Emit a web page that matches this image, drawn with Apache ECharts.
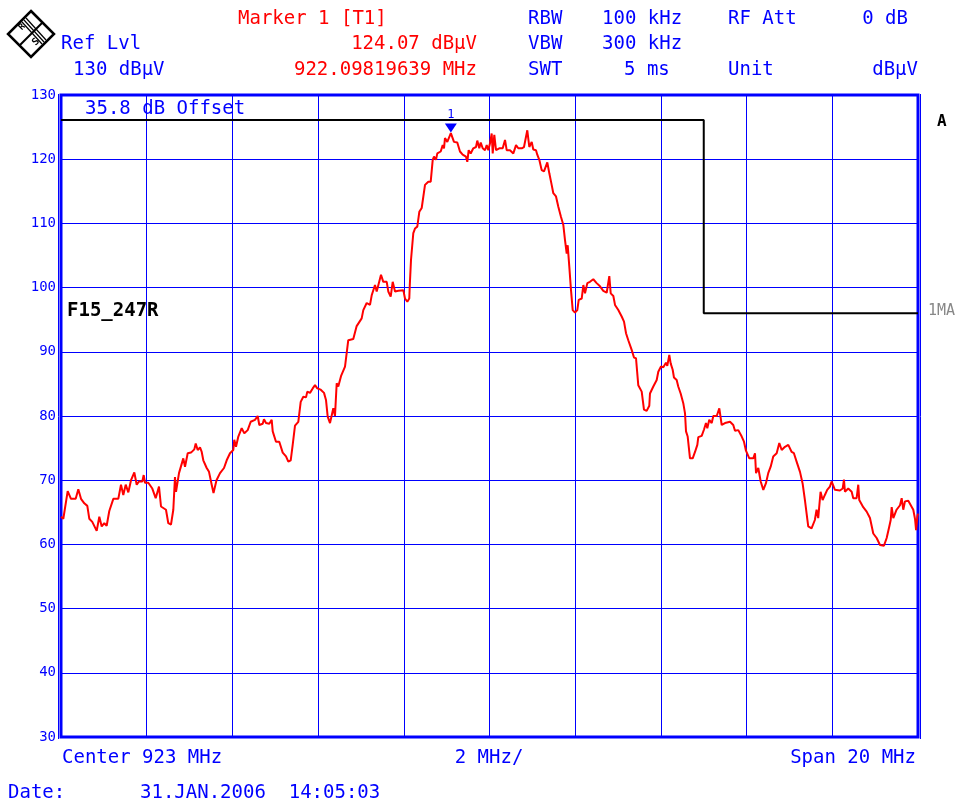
<!DOCTYPE html>
<html>
<head>
<meta charset="utf-8">
<script src="https://cdn.jsdelivr.net/npm/echarts@6/dist/echarts.min.js"></script>
<style>
html,body{margin:0;padding:0;background:#fff;}
#chart{width:962px;height:804px;}
</style>
</head>
<body>
<div id="chart"></div>
<script>
// ---- Data ----
const centerMHz = 923;
const spanMHz = 20;
const startMHz = centerMHz - spanMHz / 2;
const yTicks = [30, 40, 50, 60, 70, 80, 90, 100, 110, 120, 130];

const freqMHz = [
913.000,913.054,913.156,913.233,913.343,913.404,913.467,913.544,913.614,913.660,
913.730,913.833,913.894,913.950,914.010,914.066,914.127,914.221,914.337,914.400,
914.454,914.510,914.571,914.634,914.711,914.767,914.820,914.897,914.930,914.960,
915.037,915.131,915.210,915.287,915.334,915.364,915.450,915.504,915.567,915.621,
915.660,915.684,915.754,915.854,915.894,915.957,916.034,916.111,916.144,916.190,
916.244,916.284,916.321,916.400,916.454,916.517,916.559,916.629,916.711,916.804,
916.867,916.944,917.021,917.044,917.084,917.138,917.217,917.278,917.357,917.427,
917.527,917.590,917.628,917.707,917.737,917.784,917.861,917.917,917.941,918.017,
918.094,918.174,918.251,918.305,918.361,918.407,918.461,918.538,918.594,918.655,
918.718,918.748,918.811,918.874,918.928,918.981,919.061,919.138,919.184,919.224,
919.278,919.324,919.355,919.394,919.434,919.471,919.539,919.628,919.704,919.821,
919.900,920.017,920.055,920.134,920.211,920.251,920.328,920.368,920.468,920.521,
920.601,920.638,920.694,920.741,920.795,920.872,920.989,921.028,921.082,921.128,
921.140,921.168,921.222,921.261,921.315,921.362,921.418,921.495,921.572,921.628,
921.675,921.705,921.751,921.782,921.861,921.908,921.938,921.961,922.015,922.098,
922.171,922.248,922.311,922.374,922.451,922.482,922.514,922.561,922.622,922.685,
922.715,922.762,922.795,922.841,922.895,922.935,922.972,923.012,923.051,923.075,
923.112,923.152,923.229,923.308,923.362,923.401,923.478,923.556,923.619,923.672,
923.751,923.805,923.882,923.929,923.985,924.022,924.085,924.115,924.162,924.218,
924.272,924.349,924.396,924.451,924.489,924.552,924.606,924.669,924.722,924.762,
924.802,924.825,924.862,924.902,924.942,924.995,925.049,925.082,925.152,925.190,
925.229,925.283,925.345,925.422,925.501,925.579,925.656,925.735,925.796,925.829,
925.890,925.929,926.006,926.085,926.139,926.186,926.239,926.318,926.372,926.419,
926.472,926.552,926.605,926.668,926.729,926.745,926.823,926.902,926.939,927.002,
927.056,927.118,927.149,927.196,927.228,927.275,927.305,927.368,927.405,927.461,
927.522,927.563,927.586,927.625,927.679,927.742,927.796,927.850,927.873,927.952,
928.006,928.052,928.083,928.129,928.186,928.223,928.303,928.363,928.419,928.496,
928.613,928.689,928.729,928.806,928.886,928.939,928.985,929.063,929.156,929.196,
929.220,929.273,929.329,929.390,929.450,929.505,929.562,929.622,929.702,929.763,
929.819,929.896,929.973,930.052,930.104,930.167,930.246,930.307,930.361,930.400,
930.438,930.516,930.593,930.633,930.671,930.726,930.774,930.827,930.881,930.944,
930.984,931.061,931.178,931.242,931.272,931.295,931.372,931.452,931.489,931.568,
931.606,931.629,931.722,931.802,931.879,931.956,932.035,932.113,932.206,932.269,
932.330,932.363,932.386,932.424,932.500,932.580,932.619,932.656,932.696,932.773,
932.819,932.890,932.932,932.955,932.985,933.000
];

const levelDbuV = [
64.3,64.0,68.3,67.1,67.1,68.6,67.1,66.4,66.0,64.0,
63.5,62.1,64.3,62.8,63.3,62.9,65.2,67.1,67.1,69.3,
67.7,69.3,68.1,70.0,71.2,69.3,69.8,69.8,70.8,69.6,
69.6,68.7,67.2,69.0,65.9,65.6,65.4,63.3,63.1,65.4,
70.5,68.2,71.1,73.4,72.1,74.2,74.3,74.8,75.7,74.7,
75.1,74.4,73.1,71.9,71.3,69.3,68.0,70.0,71.1,71.9,
73.1,74.2,74.7,76.3,75.2,76.8,78.1,77.3,77.8,79.1,
79.4,80.0,78.6,78.8,79.5,78.9,78.8,79.4,77.6,76.0,
76.0,74.3,73.7,72.9,73.1,75.5,78.5,79.1,82.2,83.0,
82.9,83.8,83.6,84.3,84.8,84.3,84.1,83.6,82.5,79.9,
78.9,78.9,81.2,80.0,85.1,84.6,86.3,87.7,91.8,92.0,
94.0,95.2,96.5,97.6,97.3,98.8,100.4,99.4,102.0,100.9,
100.9,99.4,98.6,100.9,99.4,99.5,99.6,98.3,97.8,98.3,
100.4,104.3,108.5,109.2,109.5,111.8,112.4,116.0,116.5,116.5,
119.9,120.4,119.9,120.9,121.2,122.2,121.7,123.3,122.7,124.07,
122.7,122.6,121.2,120.7,120.4,119.6,121.4,120.9,121.7,121.9,
122.9,121.7,122.6,121.7,121.4,122.2,121.4,122.5,124.0,120.9,
123.8,121.4,121.7,121.7,123.0,121.4,121.4,120.9,122.2,121.7,
121.7,121.9,124.5,121.9,122.7,121.5,121.4,120.7,119.9,118.3,
118.1,119.5,117.8,116.0,114.7,114.2,112.6,111.0,109.8,107.4,
105.3,106.6,103.3,99.6,96.5,96.1,96.5,98.1,98.3,100.4,
99.1,100.7,100.9,101.3,100.7,100.2,99.5,99.2,101.8,99.1,
98.7,97.3,96.5,95.5,94.7,92.9,91.8,90.3,89.1,89.0,
84.8,83.8,81.0,80.8,81.6,83.5,84.6,85.6,86.9,87.7,
87.6,88.3,87.8,89.5,88.2,87.2,86.0,85.6,84.6,83.5,
82.0,80.4,77.6,76.8,73.4,73.4,74.4,75.5,76.7,76.9,
77.9,78.9,78.1,79.4,78.9,80.0,80.0,81.2,78.6,78.9,
79.1,78.6,77.7,77.8,76.8,76.0,74.6,73.4,73.4,74.2,
71.1,71.9,69.8,68.5,69.5,71.1,72.1,73.7,74.2,75.8,
74.7,75.2,75.5,74.4,74.2,72.9,71.3,69.5,66.9,66.7,
62.8,62.5,63.8,65.4,64.1,68.2,66.9,67.7,68.5,69.0,
69.8,68.5,68.4,68.7,70.1,68.2,68.7,68.2,67.2,67.2,
69.3,66.9,65.8,65.1,64.1,61.7,61.0,59.9,59.8,61.0,
62.8,63.8,65.8,64.1,65.4,66.1,67.2,65.4,66.7,66.8,
66.7,65.4,63.9,62.2,64.3,64.8
];

// Limit line (black)
const limitFreqMHz = [913, 928, 928, 933];
const limitDbuV = [126.1, 126.1, 96.0, 96.0];

// Marker 1
const markerFreqMHz = 922.09819639;
const markerLevel = 124.07;

// ---- Build (x = MHz from start frequency) ----
const traceData = freqMHz.map((f, i) => [f - startMHz, levelDbuV[i]]);
const limitData = limitFreqMHz.map((f, i) => [f - startMHz, limitDbuV[i]]);

const BLUE = '#0000ff';
const RED = '#ff0000';
const MONO = '"DejaVu Sans Mono", "Liberation Mono", monospace';
const F = (sz, w) => (w || 'normal') + ' ' + sz + 'px ' + MONO;

function txt(x, y, s, color, size, align, weight) {
  return {
    type: 'text', x: x, y: y, silent: true,
    style: { text: s, fill: color, font: F(size, weight), align: align || 'left', verticalAlign: 'middle' }
  };
}

const chart = echarts.init(document.getElementById('chart'), null, { renderer: 'canvas' });

const option = {
  animation: false,
  backgroundColor: '#ffffff',
  grid: {
    left: 61, right: 44, top: 95, bottom: 67,
    show: true, borderColor: BLUE, borderWidth: 3, backgroundColor: 'transparent'
  },
  xAxis: {
    type: 'value',
    min: 0, max: spanMHz, interval: 2,
    axisLine: { show: false, onZero: false },
    axisTick: { show: false },
    axisLabel: { show: false },
    splitLine: { show: true, lineStyle: { color: BLUE, width: 1 } }
  },
  yAxis: {
    type: 'value',
    min: yTicks[0], max: yTicks[yTicks.length - 1], interval: 10,
    axisLine: { show: false, onZero: false },
    axisTick: { show: false },
    axisLabel: { show: true, color: BLUE, fontFamily: MONO, fontSize: 14, margin: 5 },
    splitLine: { show: true, lineStyle: { color: BLUE, width: 1 } }
  },
  series: [
    {
      type: 'line',
      data: limitData,
      showSymbol: false,
      lineStyle: { color: '#000000', width: 2 },
      silent: true,
      z: 3
    },
    {
      type: 'line',
      data: traceData,
      showSymbol: false,
      lineStyle: { color: RED, width: 2 },
      silent: true,
      z: 4,
      markPoint: {
        silent: true,
        data: [{
          coord: [markerFreqMHz - startMHz, markerLevel],
          symbol: 'triangle',
          symbolRotate: 180,
          symbolSize: [12, 9],
          symbolOffset: [0, -5],
          itemStyle: { color: BLUE },
          label: { show: true, formatter: '1', position: 'top', distance: 3, color: BLUE, fontFamily: MONO, fontSize: 12 }
        }]
      }
    }
  ],
  graphic: [
    // left / right double frame lines
    { type: 'line', silent: true, shape: { x1: 58.5, y1: 94, x2: 58.5, y2: 739 }, style: { stroke: BLUE, lineWidth: 1 } },
    { type: 'line', silent: true, shape: { x1: 920.5, y1: 94, x2: 920.5, y2: 739 }, style: { stroke: BLUE, lineWidth: 1 } },
    // R&S logo
    {
      type: 'group', silent: true,
      children: [
        { type: 'polygon', shape: { points: [[31, 11], [54, 34], [31, 57], [8, 34]] }, style: { fill: 'none', stroke: '#000', lineWidth: 2.5 } },
        { type: 'line', shape: { x1: 22, y1: 22, x2: 42, y2: 44 }, style: { stroke: '#000', lineWidth: 1.2 } },
        { type: 'line', shape: { x1: 24, y1: 20, x2: 44, y2: 42 }, style: { stroke: '#000', lineWidth: 1.2 } },
        { type: 'line', shape: { x1: 26, y1: 18, x2: 46, y2: 40 }, style: { stroke: '#000', lineWidth: 1.2 } },
        { type: 'line', shape: { x1: 19, y1: 46, x2: 43, y2: 22 }, style: { stroke: '#000', lineWidth: 2 } },
        { type: 'text', x: 22, y: 27, rotation: Math.PI / 4, style: { text: 'R', fill: '#000', font: F(9, 'bold'), align: 'center', verticalAlign: 'middle' } },
        { type: 'text', x: 36, y: 42, rotation: Math.PI / 4, style: { text: 'S', fill: '#000', font: F(10, 'bold'), align: 'center', verticalAlign: 'middle' } }
      ]
    },
    // header row 1
    txt(238, 19, 'Marker 1 [T1]', RED, 19),
    txt(528, 19, 'RBW', BLUE, 19),
    txt(602, 19, '100 kHz', BLUE, 19),
    txt(728, 19, 'RF Att', BLUE, 19),
    txt(908, 19, '0 dB', BLUE, 19, 'right'),
    // header row 2
    txt(61, 44, 'Ref Lvl', BLUE, 19),
    txt(477, 44, '124.07 dB\u03bcV', RED, 19, 'right'),
    txt(528, 44, 'VBW', BLUE, 19),
    txt(602, 44, '300 kHz', BLUE, 19),
    // header row 3
    txt(73, 70, '130 dB\u03bcV', BLUE, 19),
    txt(477, 70, '922.09819639 MHz', RED, 19, 'right'),
    txt(528, 70, 'SWT', BLUE, 19),
    txt(624, 70, '5 ms', BLUE, 19),
    txt(728, 70, 'Unit', BLUE, 19),
    txt(918, 70, 'dB\u03bcV', BLUE, 19, 'right'),
    // in-plot annotations
    txt(85, 109, '35.8 dB Offset', BLUE, 19),
    txt(67, 311, 'F15_247R', '#000000', 19, 'left', 'bold'),
    txt(937, 122, 'A', '#000000', 16, 'left', 'bold'),
    txt(928, 311, '1MA', '#888888', 15),
    // bottom
    txt(62, 758, 'Center 923 MHz', BLUE, 19),
    txt(489, 758, '2 MHz/', BLUE, 19, 'center'),
    txt(916, 758, 'Span 20 MHz', BLUE, 19, 'right'),
    txt(8, 793, 'Date:', BLUE, 19),
    txt(140, 793, '31.JAN.2006  14:05:03', BLUE, 19)
  ]
};

chart.setOption(option);
</script>
</body>
</html>
